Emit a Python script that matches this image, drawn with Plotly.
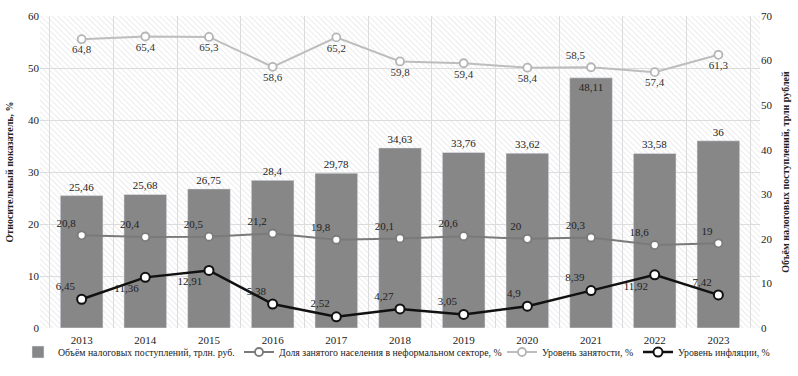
import base64
import plotly.graph_objects as go

years = ["2013", "2014", "2015", "2016", "2017", "2018", "2019", "2020", "2021", "2022", "2023"]
tax_revenue = [25.46, 25.68, 26.75, 28.4, 29.78, 34.63, 33.76, 33.62, 48.11, 33.58, 36]
informal_share = [20.8, 20.4, 20.5, 21.2, 19.8, 20.1, 20.6, 20, 20.3, 18.6, 19]
employment = [64.8, 65.4, 65.3, 58.6, 65.2, 59.8, 59.4, 58.4, 58.5, 57.4, 61.3]
inflation = [6.45, 11.36, 12.91, 5.38, 2.52, 4.27, 3.05, 4.9, 8.39, 11.92, 7.42]

names = [
    "Объём налоговых поступлений, трлн. руб.",
    "Доля занятого населения в неформальном секторе, %",
    "Уровень занятости, %",
    "Уровень инфляции, %",
]

def fmt(v):
    return ("%g" % v).replace(".", ",")

FONT = "Liberation Serif, Times New Roman, serif"

# styles (label positions)
bar_pos = ["outside"] * 8 + ["inside"] + ["outside"] * 2
emp_pos = ["bottom center"] * 8 + ["top left"] + ["bottom center"] * 2
inf_pos = ["top left", "bottom left", "bottom left", "top left", "top left", "top left",
           "top left", "top left", "top left", "bottom left", "top left"]

fig = go.Figure()
fig.add_trace(go.Bar(
    x=years, y=tax_revenue, name=names[0], yaxis="y", legend="legend",
    marker=dict(color="#878787"),
    text=[fmt(v) for v in tax_revenue], textposition=bar_pos,
    insidetextanchor="end", cliponaxis=False,
    textfont=dict(family=FONT, size=11, color="#222"),
))
fig.add_trace(go.Scatter(
    x=years, y=informal_share, name=names[1], yaxis="y2", mode="lines+markers+text", legend="legend2",
    line=dict(color="#7a7a7a", width=2),
    marker=dict(size=8, color="white", line=dict(color="#7a7a7a", width=1.8)),
    text=[fmt(v) for v in informal_share], textposition="top left",
    textfont=dict(family=FONT, size=11, color="#222"),
))
fig.add_trace(go.Scatter(
    x=years, y=employment, name=names[2], yaxis="y2", mode="lines+markers+text", legend="legend3",
    line=dict(color="#bdbdbd", width=2),
    marker=dict(size=8, color="white", line=dict(color="#b5b5b5", width=1.8)),
    text=[fmt(v) for v in employment], textposition=emp_pos,
    textfont=dict(family=FONT, size=11, color="#333"),
))
fig.add_trace(go.Scatter(
    x=years, y=inflation, name=names[3], yaxis="y2", mode="lines+markers+text", legend="legend4",
    line=dict(color="#111", width=2.5),
    marker=dict(size=9, color="white", line=dict(color="#111", width=2)),
    text=[fmt(v) for v in inflation], textposition=inf_pos,
    textfont=dict(family=FONT, size=11, color="#222"),
))

W, H = 720, 312
svg = (
    f'<svg xmlns="http://www.w3.org/2000/svg" width="{W}" height="{H}" viewBox="0 0 {W} {H}">'
    '<defs><pattern id="p" width="4" height="4" patternUnits="userSpaceOnUse" patternTransform="rotate(-45)">'
    '<line x1="0" y1="0" x2="0" y2="4" stroke="#dcdcdc" stroke-width="1.1"/></pattern></defs>'
    f'<rect width="{W}" height="{H}" fill="white"/><rect width="{W}" height="{H}" fill="url(#p)"/></svg>'
)
uri = "data:image/svg+xml;base64," + base64.b64encode(svg.encode()).decode()

def leg(px):
    return dict(orientation="h", x=(px - 40) / 720, xanchor="left", y=-0.077, yanchor="middle",
                font=dict(family=FONT, size=9.8, color="#222"), itemwidth=30,
                bgcolor="rgba(0,0,0,0)", borderwidth=0)

fig.update_layout(
    width=798, height=376,
    margin=dict(l=40, r=38, t=16, b=48, autoexpand=False),
    paper_bgcolor="white", plot_bgcolor="white",
    font=dict(family=FONT, size=11, color="#222"),
    bargap=0.33,
    showlegend=True,
    legend=leg(18), legend2=leg(239), legend3=leg(502), legend4=leg(638),
    images=[dict(source=uri, xref="paper", yref="paper", x=0, y=1, sizex=1, sizey=1,
                 xanchor="left", yanchor="top", sizing="stretch", layer="below")],
    xaxis=dict(type="category", tickson="boundaries", showgrid=True, gridcolor="#dcdcdc",
               ticks="", showline=False, tickfont=dict(family=FONT, size=11), ticklabelstandoff=4),
    yaxis=dict(range=[0, 60], dtick=10, showgrid=True, gridcolor="#dcdcdc", zeroline=False,
               ticks="", tickfont=dict(family=FONT, size=11),
               title=dict(text="<b>Относительный показатель, %</b>", font=dict(family=FONT, size=10), standoff=12)),
    yaxis2=dict(range=[0, 70], dtick=10, overlaying="y", side="right", showgrid=False, zeroline=False,
                ticks="", tickfont=dict(family=FONT, size=11),
                title=dict(text="<b>Объём налоговых поступлений, трлн рублей</b>", font=dict(family=FONT, size=10), standoff=10)),
)

fig.write_html("out.html", config={"displayModeBar": False},
               post_script="document.body.style.margin='0px';")
